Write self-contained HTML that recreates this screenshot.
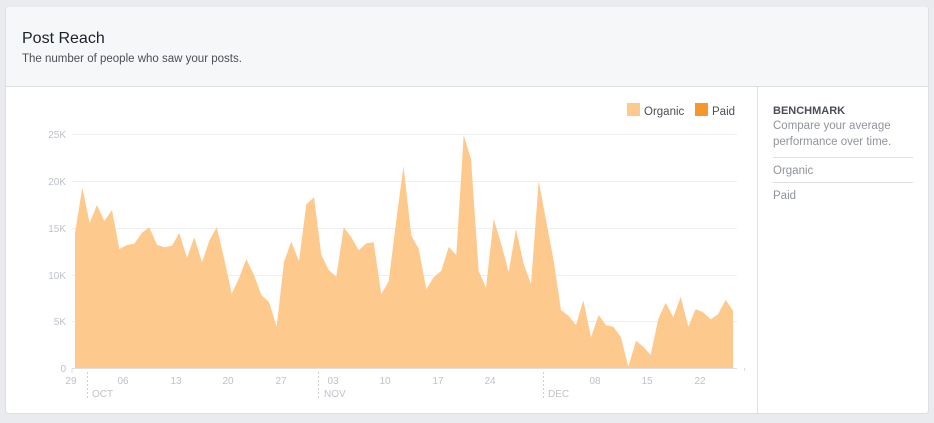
<!DOCTYPE html>
<html><head><meta charset="utf-8"><style>
body{margin:0;background:#e9ebee;width:934px;height:423px;overflow:hidden;font-family:"Liberation Sans",sans-serif}
</style></head><body>
<svg width="934" height="423" xmlns="http://www.w3.org/2000/svg" style="position:absolute;left:0;top:0;font-family:'Liberation Sans',sans-serif">
<rect x="5.5" y="6.5" width="923" height="407" rx="3" fill="#fff" stroke="#dddfe2"/>
<path d="M6 86 V9 a2.5 2.5 0 0 1 2.5 -2.5 H925.5 a2.5 2.5 0 0 1 2.5 2.5 V86 Z" fill="#f6f7f9"/>
<line x1="6" y1="86.5" x2="928" y2="86.5" stroke="#dddfe2"/>
<text x="22" y="43" font-size="16" fill="#1d2129">Post Reach</text>
<text x="22" y="62" font-size="11.5" fill="#4b4f56">The number of people who saw your posts.</text>
<line x1="757.5" y1="87" x2="757.5" y2="413" stroke="#dddfe2"/>
<text x="773" y="114" font-size="11" font-weight="bold" fill="#4b4f56">BENCHMARK</text>
<text x="773" y="129" font-size="11.5" fill="#90949c">Compare your average</text>
<text x="773" y="145" font-size="11.5" fill="#90949c">performance over time.</text>
<line x1="773" y1="157.5" x2="913" y2="157.5" stroke="#dddfe2"/>
<text x="773" y="174" font-size="11.5" fill="#90949c">Organic</text>
<line x1="773" y1="182.5" x2="913" y2="182.5" stroke="#dddfe2"/>
<text x="773" y="199" font-size="11.5" fill="#90949c">Paid</text>
<rect x="627" y="103" width="13" height="13" fill="#fec98c"/>
<text x="644" y="115" font-size="11.5" fill="#4b4f56">Organic</text>
<rect x="695" y="103" width="13" height="13" fill="#f7962c"/>
<text x="712" y="115" font-size="11.5" fill="#4b4f56">Paid</text>
<g stroke="#eeeff1">
<line x1="72" y1="134.5" x2="737" y2="134.5"/><line x1="72" y1="181.5" x2="737" y2="181.5"/><line x1="72" y1="228.5" x2="737" y2="228.5"/><line x1="72" y1="275.5" x2="737" y2="275.5"/><line x1="72" y1="321.5" x2="737" y2="321.5"/>
</g>
<g font-size="10" fill="#bec2c9" text-anchor="end">
<text x="66" y="138">25K</text><text x="66" y="185">20K</text><text x="66" y="232">15K</text><text x="66" y="279">10K</text><text x="66" y="325">5K</text><text x="66" y="372">0</text>
</g>
<path fill="#fec98c" d="M75,368 L75,233 82.3,187.7 89.7,223 97,205 104.3,221 112,210 119.3,249 127,245 134.3,243.7 142,232.7 149.3,227.3 157,244.7 164.3,247.3 172,245.7 179.3,233 187,257.7 194.3,237.3 202,262.3 209.3,240.7 216.7,227 224.3,259.3 231.7,293.7 239,278.3 246.3,259 254,275 261.3,295 269,302 276.7,326.7 284,261.7 291.3,241.7 299,261.3 306.3,204.3 314,197.3 321.3,254.7 328.7,270 336.3,276.7 343.7,227.3 351.3,237.3 358.7,250.3 366.3,243.3 373.7,242.3 381.3,294.3 388.7,281.3 396.3,220 403.5,166 411.3,235.7 418.7,248.7 426.3,289.3 433.7,277.3 441.3,270.7 448.7,247 456.3,255 463.7,135 471,159.3 478.7,271 486,287.7 493.7,218.7 501,243.3 508.7,272 516,229 523.7,264 531,284 538.7,181 546,220 553.7,260.7 561,310 568.7,316 576,325 583.3,300.3 591,337.3 598.7,315 606,325.3 613.3,326.7 621,337.3 628.3,366.7 636,340.7 643.3,346.7 650.7,355 658.3,318.7 665.7,302.7 673.3,317.3 680.7,296.7 688.3,326.7 695.7,309 703,312.3 710.7,319.3 718,314.3 725.7,299.7 733,310.7 L733,368 Z"/>
<line x1="72" y1="368.5" x2="737" y2="368.5" stroke="#dddfe2"/>
<g stroke="#dddfe2"><line x1="72" y1="368" x2="72" y2="373"/><line x1="744.5" y1="368" x2="744.5" y2="371"/></g>
<g stroke="#ccd0d5" stroke-dasharray="2,2"><line x1="87.5" y1="372" x2="87.5" y2="398"/><line x1="318.5" y1="372" x2="318.5" y2="398"/><line x1="543.5" y1="372" x2="543.5" y2="398"/></g>
<g font-size="10" fill="#bec2c9" text-anchor="middle">
<text x="71" y="384">29</text><text x="123" y="384">06</text><text x="176" y="384">13</text><text x="228" y="384">20</text><text x="281" y="384">27</text><text x="333" y="384">03</text><text x="385" y="384">10</text><text x="438" y="384">17</text><text x="490" y="384">24</text><text x="595" y="384">08</text><text x="647" y="384">15</text><text x="700" y="384">22</text>
</g>
<g font-size="10" fill="#bec2c9">
<text x="92" y="397">OCT</text><text x="324" y="397">NOV</text><text x="548" y="397">DEC</text>
</g>
</svg>
</body></html>
